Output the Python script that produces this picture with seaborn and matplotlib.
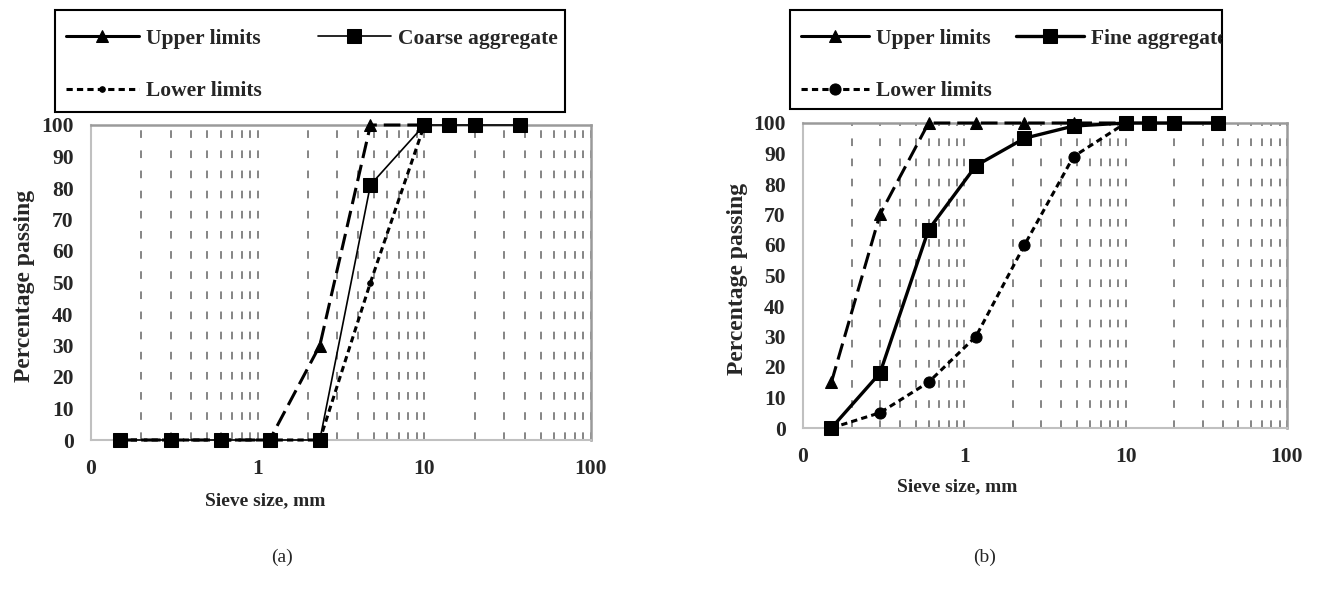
import matplotlib
matplotlib.use("Agg")
import matplotlib.pyplot as plt
from matplotlib.patches import Rectangle
from matplotlib.ticker import FixedLocator, FixedFormatter, NullFormatter
import seaborn as sns

# =========================
# Data
# =========================
SIEVE = [0.15, 0.3, 0.6, 1.18, 2.36, 4.75, 10, 14, 20, 37.5]
LIMIT_SIEVE = [0.15, 0.3, 0.6, 1.18, 2.36, 4.75, 10]

COARSE = [0, 0, 0, 0, 0, 81, 100, 100, 100, 100]
COARSE_UPPER = [0, 0, 0, 0, 30, 100, 100]
COARSE_LOWER = [0, 0, 0, 0, 0, 50, 100]

FINE = [0, 18, 65, 86, 95, 99, 100, 100, 100, 100]
FINE_UPPER = [15, 70, 100, 100, 100, 100, 100]
FINE_LOWER = [0, 5, 15, 30, 60, 89, 100]

X_MAJOR = [0.1, 1, 10, 100]
X_LABELS = ["0", "1", "10", "100"]
Y_TICKS = list(range(0, 101, 10))

W, H = 1317, 595  # output size in pixels


def set_style():
    sns.set_style("white")
    plt.rcParams.update({
        "font.family": ["Liberation Serif", "DejaVu Serif"],
        "font.weight": "bold",
        "lines.scale_dashes": False,
        "axes.unicode_minus": False,
    })


def draw_panel(ax, agg, agg_label, upper, lower, agg_lw, lower_ms):
    # upper limits: long dashes + triangles
    sns.lineplot(x=LIMIT_SIEVE, y=upper, ax=ax, color="black", lw=2.2,
                 marker="^", markersize=9, markeredgecolor="black",
                 label="Upper limits", clip_on=False, zorder=3)
    ax.lines[-1].set_dashes([12, 5])
    # lower limits: short dashes + circles
    sns.lineplot(x=LIMIT_SIEVE, y=lower, ax=ax, color="black", lw=2.2,
                 marker="o", markersize=lower_ms, markeredgecolor="black",
                 label="Lower limits", clip_on=False, zorder=3)
    ax.lines[-1].set_dashes([4.5, 3])
    # aggregate: solid + squares
    sns.lineplot(x=SIEVE, y=agg, ax=ax, color="black", lw=agg_lw,
                 marker="s", markersize=10, markeredgecolor="black",
                 label=agg_label, clip_on=False, zorder=4)

    ax.set_xscale("log")
    ax.set_xlim(0.1, 100)
    ax.set_ylim(0, 100)
    ax.xaxis.set_major_locator(FixedLocator(X_MAJOR))
    ax.xaxis.set_major_formatter(FixedFormatter(X_LABELS))
    minors = [m * d for d in (0.1, 1, 10) for m in range(2, 10)]
    ax.xaxis.set_minor_locator(FixedLocator(minors))
    ax.xaxis.set_minor_formatter(NullFormatter())
    ax.set_yticks(Y_TICKS)

    ax.grid(True, which="both", axis="x", color="#858585", lw=1.4,
            linestyle=(0, (5.5, 9)))
    ax.grid(False, axis="y")
    ax.set_axisbelow(True)

    for side in ("left", "bottom"):
        ax.spines[side].set_color("#c0c0c0")
        ax.spines[side].set_linewidth(1.5)
    for side in ("top", "right"):
        ax.spines[side].set_visible(True)
        ax.spines[side].set_color("#9a9a9a")
        ax.spines[side].set_linewidth(1.8)

    ax.tick_params(axis="y", which="major", direction="out", length=4.5,
                   width=1.2, color="#c0c0c0", pad=8, labelsize=15.5)
    ax.tick_params(axis="x", which="major", direction="inout", length=7,
                   width=1.2, color="#c0c0c0", pad=10, labelsize=15.5)
    ax.tick_params(axis="x", which="minor", length=0)
    for t in ax.get_xticklabels() + ax.get_yticklabels():
        t.set_fontweight("bold")

    ax.set_xlabel("Sieve size, mm", fontsize=14, fontweight="bold")
    ax.set_ylabel("Percentage passing", fontsize=17, fontweight="bold")


def add_key(fig, ax, box, hlen, colsp):
    # legend without frame + a fixed black box like the reference (text clipped at the edge)
    x0, y0, x1, y1 = box
    ax.get_legend().remove()
    h, l = ax.get_legend_handles_labels()
    leg = fig.legend(h, l, loc="upper left",
                     bbox_to_anchor=(x0 / W, 1 - (y0 + 8) / H),
                     ncol=2, frameon=False,
                     prop={"family": "Liberation Serif", "weight": "bold", "size": 15.5},
                     handlelength=hlen, handletextpad=0.33, columnspacing=colsp,
                     labelspacing=1.5, borderpad=0.5, borderaxespad=0,
                     numpoints=1)
    # the upper-limit handle reads as a solid line in the reference key
    leg.get_lines()[0].set_linestyle("-")
    rect = Rectangle((x0 / W, 1 - y1 / H), (x1 - x0) / W, (y1 - y0) / H,
                     transform=fig.transFigure, fill=False,
                     edgecolor="black", lw=1.5)
    fig.patches.append(rect)
    for t in leg.get_texts():
        t.set_clip_path(rect)


def main():
    set_style()
    fig = plt.figure(figsize=(W / 100, H / 100), dpi=100)
    ax_a = fig.add_axes([91 / W, 1 - 440 / H, 500 / W, 315 / H])
    ax_b = fig.add_axes([803 / W, 1 - 428 / H, 484 / W, 305 / H])

    draw_panel(ax_a, COARSE, "Coarse aggregate", COARSE_UPPER, COARSE_LOWER,
               agg_lw=1.2, lower_ms=4)
    draw_panel(ax_b, FINE, "Fine aggregate", FINE_UPPER, FINE_LOWER,
               agg_lw=2.4, lower_ms=8)

    ax_a.xaxis.set_label_coords(0.348, -0.165)
    ax_a.yaxis.set_label_coords(-0.112, 0.49)
    ax_b.xaxis.set_label_coords(0.318, -0.165)
    ax_b.yaxis.set_label_coords(-0.114, 0.49)

    add_key(fig, ax_a, (55, 10, 565, 112), hlen=3.4, colsp=2.6)
    add_key(fig, ax_b, (790, 10, 1222, 109), hlen=3.15, colsp=1.15)

    fig.text(282 / W, 1 - 557 / H, "(a)", ha="center", va="center",
             fontsize=14, fontweight="normal")
    fig.text(985 / W, 1 - 557 / H, "(b)", ha="center", va="center",
             fontsize=14, fontweight="normal")

    fig.savefig("out.png", dpi=100)
    plt.close(fig)


if __name__ == "__main__":
    main()
